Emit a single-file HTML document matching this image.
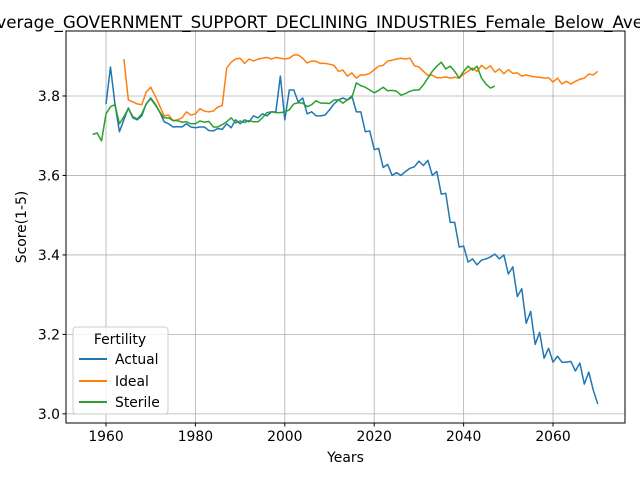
<!DOCTYPE html>
<html><head><meta charset="utf-8"><style>
body{margin:0;background:#fff}
svg{font-family:"DejaVu Sans","Liberation Sans",sans-serif;display:block}
</style></head><body>
<svg id="chart" width="640" height="480">
<text x="369" y="28" font-size="16.7" text-anchor="middle">Average_GOVERNMENT_SUPPORT_DECLINING_INDUSTRIES_Female_Below_Average_Fertility</text>
<g id="grid"></g><g id="series"></g>
<rect x="66" y="31" width="559" height="392" fill="none" stroke="#000" stroke-width="1"/>
<g id="axes"></g>
<text x="345.5" y="462" font-size="13.9" text-anchor="middle">Years</text>
<text transform="translate(26,227) rotate(-90)" font-size="13.9" text-anchor="middle">Score(1-5)</text>
<g>
<rect x="73" y="327" width="95" height="87" rx="3" fill="#fff" fill-opacity="0.8" stroke="#ccc"/>
<text x="120" y="344" font-size="13.9" text-anchor="middle">Fertility</text>
<g><line x1="79" y1="359" x2="107" y2="359" stroke="#1f77b4" stroke-width="2"/><text x="115" y="364" font-size="13.9">Actual</text></g>
<g><line x1="79" y1="381" x2="107" y2="381" stroke="#ff7f0e" stroke-width="2"/><text x="115" y="386" font-size="13.9">Ideal</text></g>
<g><line x1="79" y1="402" x2="107" y2="402" stroke="#2ca02c" stroke-width="2"/><text x="115" y="407" font-size="13.9">Sterile</text></g>
</g>
</svg>
<script>
const actualStart = 1960;
const actualValues = [3.78,3.873,3.78,3.71,3.74,3.77,3.745,3.74,3.75,3.78,3.795,3.78,3.76,3.735,3.73,3.722,3.723,3.722,3.73,3.722,3.72,3.722,3.722,3.713,3.712,3.718,3.716,3.73,3.72,3.74,3.73,3.74,3.735,3.75,3.745,3.755,3.75,3.76,3.76,3.85,3.74,3.815,3.815,3.785,3.795,3.755,3.76,3.75,3.75,3.752,3.765,3.78,3.79,3.795,3.79,3.8,3.76,3.76,3.71,3.712,3.665,3.668,3.62,3.628,3.6,3.607,3.6,3.61,3.618,3.622,3.636,3.625,3.638,3.6,3.61,3.553,3.555,3.482,3.482,3.42,3.422,3.382,3.39,3.375,3.387,3.39,3.395,3.402,3.39,3.4,3.352,3.37,3.295,3.315,3.228,3.258,3.175,3.205,3.14,3.165,3.13,3.145,3.13,3.13,3.132,3.108,3.128,3.075,3.105,3.06,3.025];
const idealStart = 1964;
const idealValues = [3.893,3.79,3.785,3.78,3.778,3.81,3.822,3.8,3.775,3.75,3.752,3.738,3.74,3.745,3.76,3.752,3.755,3.768,3.762,3.76,3.762,3.772,3.776,3.87,3.885,3.893,3.895,3.882,3.893,3.888,3.893,3.895,3.897,3.893,3.897,3.895,3.893,3.895,3.903,3.903,3.895,3.883,3.888,3.887,3.882,3.882,3.88,3.877,3.862,3.865,3.85,3.858,3.845,3.853,3.853,3.857,3.866,3.875,3.877,3.888,3.89,3.893,3.895,3.893,3.895,3.876,3.873,3.862,3.852,3.852,3.846,3.846,3.848,3.845,3.847,3.845,3.855,3.862,3.87,3.862,3.877,3.868,3.876,3.86,3.868,3.856,3.866,3.857,3.858,3.85,3.853,3.85,3.848,3.847,3.845,3.846,3.835,3.845,3.83,3.837,3.83,3.837,3.842,3.845,3.855,3.853,3.862];
const sterileStart = 1957;
const sterileValues = [3.703,3.707,3.687,3.755,3.773,3.778,3.73,3.748,3.768,3.748,3.742,3.755,3.78,3.793,3.778,3.76,3.745,3.745,3.738,3.738,3.734,3.735,3.73,3.73,3.737,3.734,3.736,3.722,3.722,3.728,3.735,3.745,3.732,3.737,3.733,3.738,3.735,3.735,3.745,3.758,3.76,3.758,3.758,3.76,3.765,3.78,3.783,3.782,3.773,3.778,3.788,3.782,3.782,3.781,3.79,3.79,3.782,3.79,3.796,3.833,3.826,3.822,3.815,3.808,3.814,3.822,3.813,3.814,3.812,3.802,3.806,3.812,3.815,3.815,3.828,3.845,3.862,3.875,3.885,3.868,3.875,3.862,3.845,3.862,3.875,3.865,3.875,3.845,3.83,3.82,3.825];
const xTicks = [1960,1980,2000,2020,2040,2060];
const yTicks = [3.0,3.2,3.4,3.6,3.8];

const NS = "http://www.w3.org/2000/svg";
const L=66,R=625,T=31,B=423,x0=1951.05,x1=2076.1,y0=2.977,y1=3.9635;
const sx = v => L + (v - x0) / (x1 - x0) * (R - L);
const sy = v => B - (v - y0) / (y1 - y0) * (B - T);
const grid = document.getElementById('grid'), axes = document.getElementById('axes'), ser = document.getElementById('series');
function mk(tag, attrs, parent){const e=document.createElementNS(NS,tag);for(const k in attrs)e.setAttribute(k,attrs[k]);parent.appendChild(e);return e;}
xTicks.forEach(t=>{
  const g=mk('line',{x1:sx(t),x2:sx(t),y1:T,y2:B,stroke:'#b0b0b0','stroke-width':0.8},grid);
  
  
  mk('line',{x1:sx(t),x2:sx(t),y1:B,y2:B+3.5,stroke:'#000'},axes);
  const tx=mk('text',{x:sx(t),y:B+18,'font-size':13.9,'text-anchor':'middle'},axes);
  tx.textContent=t;
  
  
});
yTicks.forEach(t=>{
  const g=mk('line',{x1:L,x2:R,y1:sy(t),y2:sy(t),stroke:'#b0b0b0','stroke-width':0.8},grid);
  
  
  mk('line',{x1:L-3.5,x2:L,y1:sy(t),y2:sy(t),stroke:'#000'},axes);
  const tx=mk('text',{x:L-6,y:sy(t)+5,'font-size':13.9,'text-anchor':'end'},axes);
  tx.textContent=t.toFixed(1);
  
  
});
function line(start, vals, color, name){
  const pts = vals.map((v,i)=>sx(start+i).toFixed(2)+','+sy(v).toFixed(2)).join(' ');
  const p=mk('polyline',{points:pts,fill:'none',stroke:color,'stroke-width':1.5,'stroke-linejoin':'round'},ser);
  
  
}
line(actualStart, actualValues, '#1f77b4', 'actual-line');
line(idealStart, idealValues, '#ff7f0e', 'ideal-line');
line(sterileStart, sterileValues, '#2ca02c', 'sterile-line');
</script>
</body></html>
